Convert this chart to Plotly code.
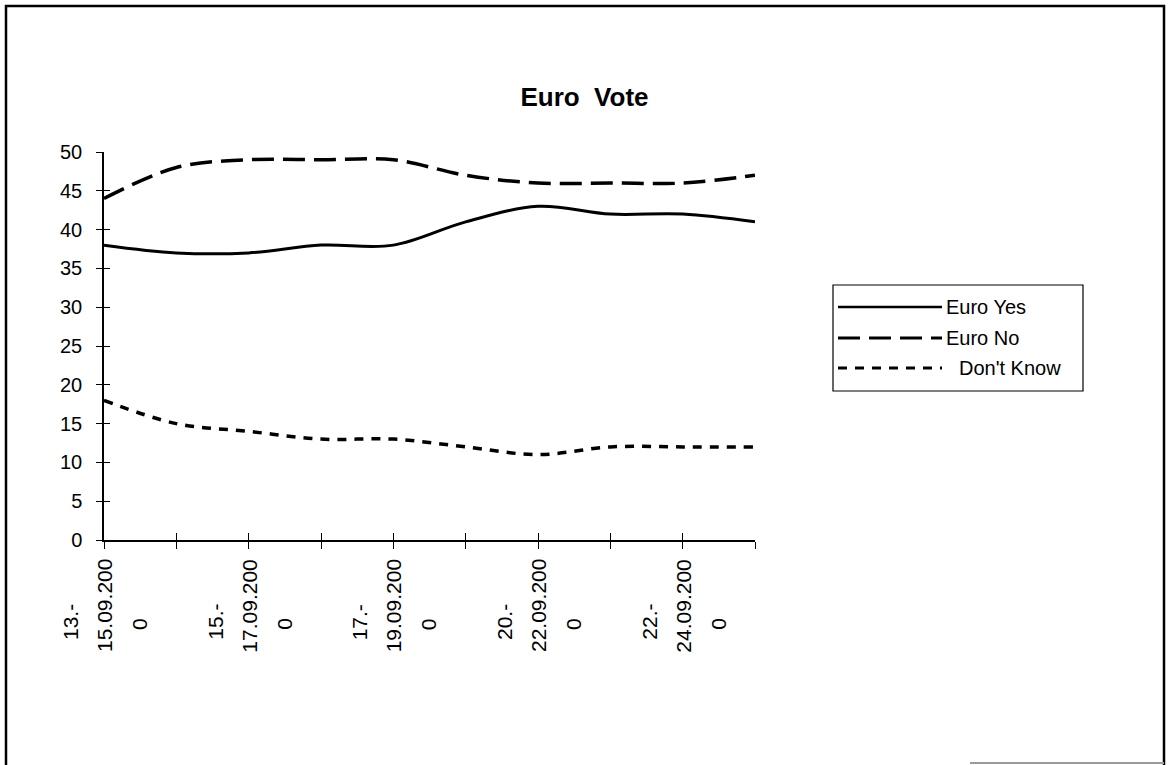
import plotly.graph_objects as go

# Polling periods (three-day rolling windows)
categories = [
    "13.-15.09.2000", "14.-16.09.2000", "15.-17.09.2000", "16.-18.09.2000",
    "17.-19.09.2000", "18.-20.09.2000", "20.-22.09.2000", "21.-23.09.2000",
    "22.-24.09.2000", "23.-25.09.2000",
]
labelled_periods = [0, 2, 4, 6, 8]

series_names = ["Euro Yes", "Euro No", "Don't Know"]
euro_yes = [38, 37, 37, 38, 38, 41, 43, 42, 42, 41]
euro_no = [44, 48, 49, 49, 49, 47, 46, 46, 46, 47]
dont_know = [18, 15, 14, 13, 13, 12, 11, 12, 12, 12]

y_ticks = list(range(0, 51, 5))

FONT = "Liberation Sans, Arial, sans-serif"
W, H = 1169, 765
M_L, M_R, M_T, M_B = 104, 414, 152, 225
PW, PH = W - M_L - M_R, H - M_T - M_B


def fx(px):
    """page pixel -> paper x"""
    return (px - M_L) / PW


def fy(py):
    """page pixel -> paper y"""
    return (H - M_B - py) / PH


styles = [
    dict(color="black", width=3, dash="solid"),
    dict(color="black", width=3.5, dash="22px,9px"),
    dict(color="black", width=3.5, dash="9px,8px"),
]

fig = go.Figure()
for name, vals, st in zip(series_names, [euro_yes, euro_no, dont_know], styles):
    fig.add_trace(go.Scatter(
        x=categories, y=vals, name=name, mode="lines",
        line=dict(shape="spline", smoothing=1.0, **st),
        showlegend=False,
    ))

# empty trace carrying the inner half of the crossing tick marks
fig.add_trace(go.Scatter(
    x=categories, y=[None] * len(categories), xaxis="x2", yaxis="y2",
    mode="lines", showlegend=False, hoverinfo="skip",
))

axis_common = dict(showgrid=False, zeroline=False, tickcolor="black",
                   tickwidth=1.2)
fig.update_layout(
    width=W, height=H, autosize=False,
    margin=dict(l=M_L, r=M_R, t=M_T, b=M_B),
    paper_bgcolor="white", plot_bgcolor="white",
    font=dict(family=FONT, color="black", size=20),
    title=dict(text="<b>Euro\u00a0\u00a0Vote</b>", x=0.5, xref="container",
               xanchor="center", y=1 - 97 / H, yanchor="middle",
               font=dict(size=26, family=FONT, color="black")),
    xaxis=dict(type="category", range=[0, len(categories) - 1],
               showline=True, linecolor="black", linewidth=1.5,
               ticks="outside", ticklen=7, showticklabels=False,
               **axis_common),
    xaxis2=dict(type="category", range=[0, len(categories) - 1],
                overlaying="x", anchor="y2", showline=False,
                ticks="inside", ticklen=7, showticklabels=False,
                **axis_common),
    yaxis=dict(range=[0, 50], tickvals=y_ticks, showline=True,
               linecolor="black", linewidth=1.5, ticks="outside", ticklen=6,
               ticklabelstandoff=10, tickfont=dict(size=20, family=FONT),
               **axis_common),
    yaxis2=dict(range=[0, 50], tickvals=y_ticks, overlaying="y",
                anchor="x2", side="left", showline=False, ticks="inside",
                ticklen=6, showticklabels=False, **axis_common),
)

# category labels: rotated, wrapped over three lines
for k in labelled_periods:
    text = categories[k]
    head, rest = text[:4], text[4:]
    lines = [(head, -34, 622), (rest[:9], 0, 606), (rest[9:], 35, 624)]
    for line, dx, cy in lines:
        fig.add_annotation(
            x=categories[k], xref="x", y=fy(cy), yref="paper",
            text=line, textangle=-90, showarrow=False, xshift=dx,
            xanchor="center", yanchor="middle",
            font=dict(size=21, family=FONT, color="black"),
        )

# legend box
fig.add_shape(type="rect", xref="paper", yref="paper",
              x0=fx(833), x1=fx(1083), y0=fy(285), y1=fy(391),
              line=dict(color="black", width=1.2), fillcolor="white")
legend_rows = [307, 338, 368]
legend_text_x = [944, 944, 957]
for name, st, row, tx in zip(series_names, styles, legend_rows, legend_text_x):
    fig.add_shape(type="line", xref="paper", yref="paper",
                  x0=fx(838), x1=fx(942), y0=fy(row), y1=fy(row),
                  line=dict(color="black", width=st["width"] - 0.5,
                            dash=st["dash"]))
    fig.add_annotation(x=fx(tx), y=fy(row), xref="paper", yref="paper",
                       text=name, showarrow=False, xanchor="left",
                       yanchor="middle",
                       font=dict(size=20, family=FONT, color="black"))

# chart frame
fig.add_shape(type="path", xref="paper", yref="paper",
              path=(f"M {fx(6)},{fy(765)} L {fx(6)},{fy(6)} "
                    f"L {fx(1164)},{fy(6)} L {fx(1164)},{fy(765)}"),
              line=dict(color="black", width=2.5))
fig.add_shape(type="line", xref="paper", yref="paper",
              x0=fx(970), x1=fx(1164), y0=fy(763), y1=fy(763),
              line=dict(color="#9a9a9a", width=2))

fig.write_html("out.html")
